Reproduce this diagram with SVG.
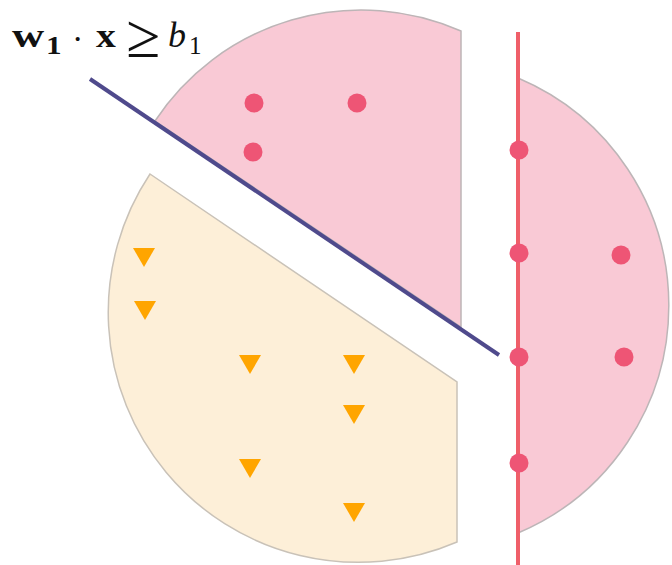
<svg xmlns="http://www.w3.org/2000/svg" width="672" height="565" viewBox="0 0 672 565">
<style>
.pink{fill:#f9c9d5;stroke:#bdb5b7;stroke-width:1.5}
.yellow{fill:#fdefd8;stroke:#c9c2b8;stroke-width:1.5}
.dot{fill:#ee5575}
.tri{fill:#ffa500}
.m{font-family:"Liberation Serif","DejaVu Serif",serif;fill:#111}
</style>
<defs>
<circle id="d" r="9.5" class="dot"/>
<polygon id="t" points="-11,0 11,0 0,19" class="tri"/>
</defs>
<rect width="672" height="565" fill="#ffffff"/>
<g id="region-top">
<path class="pink" d="M461 327 L155 121 A247 247 0 0 1 461 31 Z"/>
</g>
<g id="region-bottom">
<path class="yellow" d="M150 174 L457 382 L457 542 A250 250 0 0 1 150 174 Z"/>
</g>
<g id="region-right">
<path class="pink" d="M518 78 A247 247 0 0 1 518 533 Z"/>
</g>
<g id="connectors">
<line x1="518" y1="32" x2="518" y2="565" stroke="#ef5f69" stroke-width="4"/>
<line x1="90" y1="79" x2="499" y2="355" stroke="#4f4a8c" stroke-width="4"/>
</g>
<g id="points-top">
<use href="#d" x="254" y="103"/>
<use href="#d" x="357" y="103"/>
<use href="#d" x="253" y="152"/>
</g>
<g id="points-right">
<use href="#d" x="519" y="150"/>
<use href="#d" x="519" y="253"/>
<use href="#d" x="519" y="357"/>
<use href="#d" x="519" y="463"/>
<use href="#d" x="621" y="255"/>
<use href="#d" x="624" y="357"/>
</g>
<g id="points-bottom">
<use href="#t" x="144" y="248"/>
<use href="#t" x="145" y="301"/>
<use href="#t" x="250" y="355"/>
<use href="#t" x="354" y="355"/>
<use href="#t" x="354" y="405"/>
<use href="#t" x="250" y="459"/>
<use href="#t" x="354" y="503"/>
</g>
<g id="label">
<text class="m" font-size="33" font-weight="bold" transform="translate(12,47) scale(1.35,1)">w</text>
<text class="m" font-size="25" font-weight="bold" transform="translate(46,54) scale(1.25,1)">1</text>
<text class="m" font-size="34" x="72" y="50">·</text>
<text class="m" font-size="33" font-weight="bold" transform="translate(96,47) scale(1.2,1)">x</text>
<text class="m" font-size="62" x="126" y="57">≥</text>
<text class="m" font-size="36" font-style="italic" x="168" y="47">b</text>
<text class="m" font-size="25" x="189" y="54">1</text>
</g>
</svg>
